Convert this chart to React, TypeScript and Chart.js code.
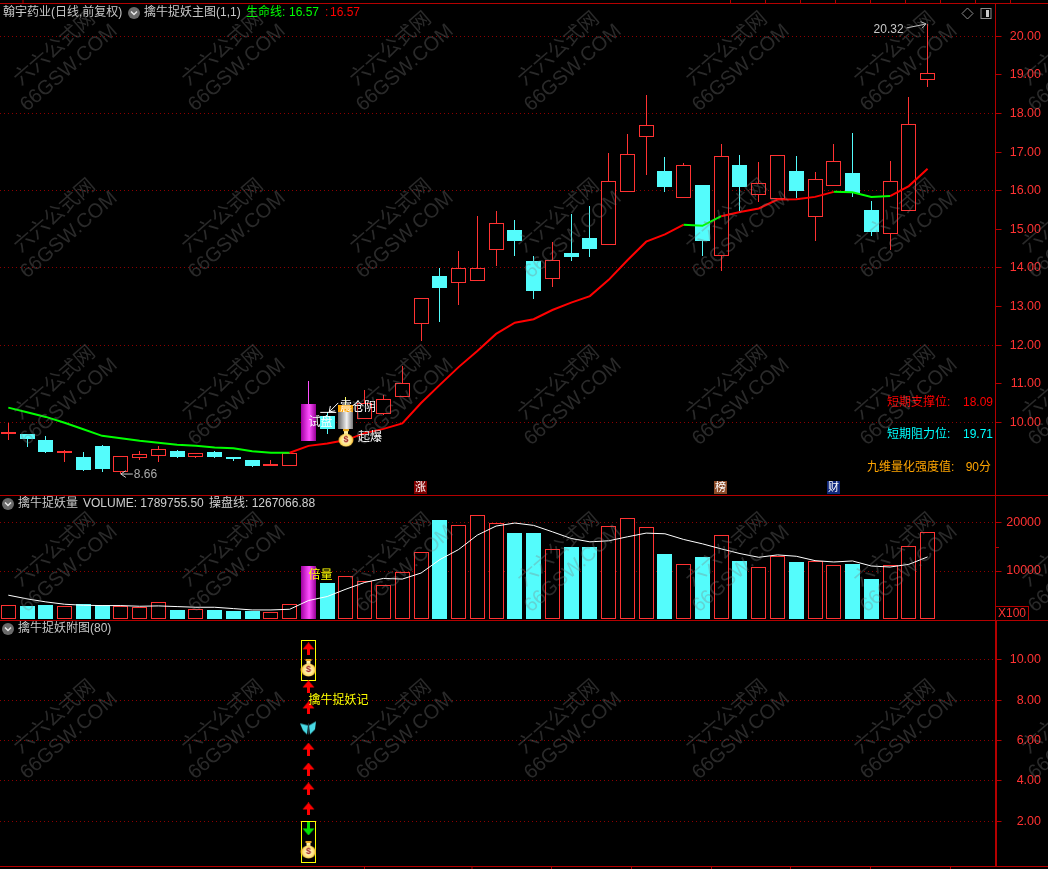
import React, { useEffect, useRef } from "react";
import { Chart, registerables } from "chart.js";

Chart.register(...registerables);

// ---------- data ----------
const stockTitle = "翰宇药业(日线,前复权)";
const mainTitle = "擒牛捉妖主图(1,1)";
const lifeName = "生命线:";
const lifeValue = "16.57";
const volumeTitle = "擒牛捉妖量";
const volumeText = "VOLUME: 1789755.50";
const operateText = "操盘线: 1267066.88";
const subTitle = "擒牛捉妖附图(80)";

const opens = [9.70, 9.70, 9.54, 9.20, 9.09, 9.39, 8.72, 9.08, 9.13, 9.25, 9.11, 9.22, 9.09, 9.02, 8.88, 8.86, 9.52, 10.16, 9.82, 10.08, 10.21, 10.66, 12.54, 13.78, 13.60, 13.67, 14.46, 14.98, 14.18, 13.70, 14.39, 14.78, 14.60, 15.97, 17.40, 16.51, 15.82, 16.15, 14.30, 16.67, 15.90, 15.79, 16.51, 15.33, 16.13, 16.46, 15.50, 14.89, 15.48, 18.88];
const highs = [9.97, 9.70, 9.65, 9.28, 9.23, 9.41, 9.12, 9.26, 9.39, 9.28, 9.21, 9.26, 9.09, 9.02, 9.02, 9.20, 11.07, 10.27, 10.65, 10.84, 10.71, 11.46, 13.21, 13.99, 14.43, 15.34, 15.48, 15.24, 14.31, 14.67, 15.40, 15.60, 16.98, 17.47, 18.48, 16.87, 16.72, 16.15, 17.21, 16.92, 16.74, 16.92, 16.90, 16.48, 17.21, 17.49, 15.73, 16.77, 18.43, 20.32];
const lows = [9.54, 9.35, 9.21, 8.98, 8.73, 8.72, 8.66, 9.02, 8.98, 9.08, 9.07, 9.08, 9.01, 8.85, 8.88, 8.86, 9.52, 9.69, 9.82, 10.08, 10.19, 10.66, 12.10, 12.61, 13.05, 13.67, 14.06, 14.32, 13.20, 13.51, 14.18, 14.27, 14.60, 15.97, 16.41, 15.97, 15.82, 14.32, 13.93, 15.48, 15.71, 15.79, 15.80, 14.70, 16.13, 15.84, 14.83, 14.47, 15.48, 18.69];
const closes = [9.70, 9.56, 9.24, 9.21, 8.76, 8.80, 9.12, 9.17, 9.30, 9.10, 9.21, 9.10, 9.05, 8.87, 8.91, 9.20, 10.47, 9.83, 10.45, 10.50, 10.60, 11.01, 13.21, 13.47, 14.01, 13.99, 15.16, 14.70, 13.41, 14.20, 14.29, 14.49, 16.25, 16.94, 17.69, 16.10, 16.66, 14.70, 16.89, 16.10, 16.19, 16.92, 16.00, 16.30, 16.76, 15.93, 14.93, 16.24, 17.72, 19.04];
const lifeLine = [10.38, 10.26, 10.14, 9.99, 9.82, 9.65, 9.59, 9.52, 9.47, 9.42, 9.39, 9.35, 9.33, 9.25, 9.21, 9.21, 9.39, 9.45, 9.54, 9.72, 9.83, 9.97, 10.50, 10.97, 11.43, 11.85, 12.29, 12.58, 12.67, 12.91, 13.10, 13.27, 13.69, 14.20, 14.68, 14.87, 15.12, 15.09, 15.34, 15.45, 15.54, 15.77, 15.78, 15.84, 15.97, 15.96, 15.84, 15.86, 16.12, 16.57];
const lifeRising = [false, false, false, false, false, false, false, false, false, false, false, false, false, false, false, true, true, true, true, true, true, true, true, true, true, true, true, true, true, true, true, true, true, true, true, true, false, false, true, true, true, true, true, true, false, false, false, true, true, true];
const volumes = [2936, 2800, 2940, 2730, 3150, 2870, 2730, 2450, 3500, 1890, 2030, 1890, 1680, 1680, 1400, 3080, 11110, 7550, 8950, 7900, 7060, 9790, 13980, 20550, 19640, 21740, 20060, 17825, 17825, 14610, 15100, 15100, 19430, 21110, 19220, 13630, 11460, 13000, 17550, 12160, 10830, 13140, 11950, 12160, 11250, 11530, 8390, 11250, 15240, 18170];
const operateLine = [4963, 4194, 3565, 3076, 2866, 2796, 2796, 2656, 2726, 2586, 2447, 2447, 2167, 1887, 1887, 2027, 3845, 4683, 6221, 7619, 8458, 8318, 9576, 12372, 14469, 17475, 19362, 19991, 19500, 18170, 16776, 16077, 16290, 17125, 17894, 17755, 16566, 15658, 14610, 13630, 12860, 13350, 13070, 12160, 11880, 12090, 11040, 10830, 11390, 12930];

const priceTicks = [10, 11, 12, 13, 14, 15, 16, 17, 18, 19, 20];
const priceGrid = [10, 12, 14, 16, 18, 20];
const volumeTicks = [10000, 20000];
const volumeMinorTick = 15000;
const subTicks = [2, 4, 6, 8, 10];

const signalIndex = 16;
const shakeIndex = 18;
const pulseCandle: [number, number] = [9.52, 10.47];
const shakeSilver: [number, number] = [9.82, 10.27];
const shakeOrange: [number, number] = [10.27, 10.45];
const blastBagLevel = 9.59;
const trialLevel = 10.0;
const shakeLevel = 10.37;
const doubleLevel = 8950;
const subLabelLevel = 8;

const riseArrows = [10.55, 8.66, 7.62, 5.58, 4.59, 3.6, 2.61];
const fallArrows = [1.62];
const bagLevels = [9.6, 0.58];
const butterflyLevels = [6.63];
const yellowBoxes: [number, number][] = [[8.97, 10.99], [-0.05, 2.0]];

const supportName = "短期支撑位:";
const supportValue = "18.09";
const resistName = "短期阻力位:";
const resistValue = "19.71";
const strengthName = "九维量化强度值:";
const strengthValue = "90分";
const markers = [
  { index: 22, text: "涨", color: "#800000" },
  { index: 38, text: "榜", color: "#8a4a28" },
  { index: 44, text: "财", color: "#10287c" },
];
const watermarkTop = "六六公式网";
const watermarkBottom = "66GSW.COM";

// ---------- styles ----------
const RED = "#ff3232";
const CYAN = "#54fcfc";
const FRAME = "#b40000";
const DOT = "#8c0000";
const FONT = '"Liberation Sans","Noto Sans CJK SC",sans-serif';
const X_MIN = -0.4424;
const X_MAX = 52.62;
const AXIS_WIDTH = 45.5;
const RIGHT_GAP = 7;
const BODY_WIDTH = 15;
const indexes = opens.map((_, i) => i);
const isUp = (i: number) => closes[i] >= opens[i];

function text(ctx: CanvasRenderingContext2D, s: string, x: number, y: number, color: string, align: CanvasTextAlign = "left", size = 12) {
  ctx.font = `${size}px ${FONT}`;
  ctx.textAlign = align;
  ctx.textBaseline = "middle";
  ctx.fillStyle = color;
  ctx.fillText(s, x, y);
}
function line(ctx: CanvasRenderingContext2D, x1: number, y1: number, x2: number, y2: number, color: string, w = 1) {
  ctx.strokeStyle = color;
  ctx.lineWidth = w;
  ctx.setLineDash([]);
  ctx.beginPath();
  ctx.moveTo(x1, y1);
  ctx.lineTo(x2, y2);
  ctx.stroke();
}
function chevron(ctx: CanvasRenderingContext2D, x: number, y: number) {
  ctx.fillStyle = "#6a6a6a";
  ctx.beginPath();
  ctx.arc(x, y, 6, 0, Math.PI * 2);
  ctx.fill();
  ctx.strokeStyle = "#e8e8e8";
  ctx.lineWidth = 1.5;
  ctx.setLineDash([]);
  ctx.beginPath();
  ctx.moveTo(x - 3, y - 1.5);
  ctx.lineTo(x, y + 1.5);
  ctx.lineTo(x + 3, y - 1.5);
  ctx.stroke();
}
function arrowHead(ctx: CanvasRenderingContext2D, x: number, y: number, fromX: number, fromY: number, color: string) {
  const a = Math.atan2(fromY - y, fromX - x);
  line(ctx, x, y, x + 6 * Math.cos(a + 0.6), y + 6 * Math.sin(a + 0.6), color);
  line(ctx, x, y, x + 6 * Math.cos(a - 0.6), y + 6 * Math.sin(a - 0.6), color);
}

function makeSprite(w: number, h: number, draw: (c: CanvasRenderingContext2D) => void) {
  const cv = document.createElement("canvas");
  cv.width = w;
  cv.height = h;
  draw(cv.getContext("2d") as CanvasRenderingContext2D);
  return cv;
}
const arrowSprite = (color: string, up: boolean) =>
  makeSprite(13, 13, (c) => {
    c.fillStyle = color;
    if (!up) {
      c.translate(0, 13);
      c.scale(1, -1);
    }
    c.fillRect(5, 5, 3, 8);
    c.beginPath();
    c.moveTo(6.5, 0);
    c.lineTo(12.5, 7);
    c.lineTo(0.5, 7);
    c.closePath();
    c.fill();
  });
const bagSprite = () =>
  makeSprite(16, 18, (c) => {
    c.fillStyle = "#e8a820";
    c.fillRect(5, 0, 6, 2);
    c.fillStyle = "#fff2a8";
    c.fillRect(6, 2, 4, 3);
    const g = c.createRadialGradient(8, 11, 1, 8, 11, 8);
    g.addColorStop(0, "#fff8d8");
    g.addColorStop(0.65, "#ffe070");
    g.addColorStop(1, "#d88a10");
    c.fillStyle = g;
    c.beginPath();
    c.ellipse(8, 11, 7.5, 6.5, 0, 0, Math.PI * 2);
    c.fill();
    c.fillStyle = "#a02020";
    c.font = `bold 9px ${FONT}`;
    c.textAlign = "center";
    c.textBaseline = "middle";
    c.fillText("$", 8, 11);
  });
const butterflySprite = () =>
  makeSprite(17, 15, (c) => {
    c.fillStyle = "#48d8e4";
    c.beginPath();
    c.moveTo(8, 5);
    c.lineTo(0, 3);
    c.lineTo(3, 10);
    c.lineTo(7, 14);
    c.closePath();
    c.fill();
    c.beginPath();
    c.moveTo(9, 5);
    c.lineTo(16, 1);
    c.lineTo(15, 9);
    c.lineTo(10, 14);
    c.closePath();
    c.fill();
    c.fillStyle = "#203840";
    c.fillRect(8, 3, 1, 11);
  });

function sheen(ctx: any, index: number, edgeL: string, mid: string, edgeR: string) {
  const x = ctx.chart.scales.x?.getPixelForValue(index);
  if (!Number.isFinite(x)) return mid;
  const g = ctx.chart.ctx.createLinearGradient(x - BODY_WIDTH / 2, 0, x + BODY_WIDTH / 2, 0);
  g.addColorStop(0, edgeL);
  g.addColorStop(0.55, mid);
  g.addColorStop(1, edgeR);
  return g;
}
const magenta = (ctx: any) => sheen(ctx, signalIndex, "#a000a0", "#ff50ff", "#960096");
const silver = (ctx: any) => sheen(ctx, shakeIndex, "#6c6c6c", "#f2f2f2", "#6c6c6c");

// keeps the bars on whole pixels so that the 1px outlines stay sharp
const snapBars = {
  id: "snapBars",
  afterDatasetsUpdate(chart: any) {
    chart.getSortedVisibleDatasetMetas().forEach((meta: any) => {
      if (meta.type !== "bar") return;
      meta.data.forEach((el: any) => {
        el.x = Math.floor(el.x) + 0.5;
        el.y = Math.round(el.y);
        el.base = Math.round(el.base);
      });
    });
  },
};

const noScalePadding = (s: any) => {
  s.paddingLeft = 0;
  s.paddingRight = 0;
  s.paddingTop = 0;
  s.paddingBottom = 0;
};

function yAxis(min: number, max: number, values: number[], gridded: (v: number) => boolean, format: (v: number) => string) {
  return {
    position: "right",
    min,
    max,
    afterFit: (s: any) => {
      s.width = AXIS_WIDTH;
      noScalePadding(s);
    },
    afterBuildTicks: (s: any) => {
      s.ticks = values.map((value) => ({ value }));
    },
    border: { display: false, dash: [1, 3] },
    grid: {
      color: (c: any) => (gridded(c.tick?.value) ? DOT : "rgba(0,0,0,0)"),
      tickColor: FRAME,
      tickLength: 6,
      tickBorderDash: [],
    },
    ticks: {
      autoSkip: false,
      maxRotation: 0,
      color: RED,
      crossAlign: "far",
      font: { family: "Liberation Sans", size: 12.5 },
      callback: (v: any) => format(Number(v)),
    },
  };
}
const baseOptions = (y: any, padding: any) => ({
  animation: false,
  responsive: false,
  devicePixelRatio: 1,
  layout: { autoPadding: false, padding: { left: 0, right: RIGHT_GAP, ...padding } },
  plugins: { legend: { display: false }, tooltip: { enabled: false } },
  scales: {
    x: { type: "linear", min: X_MIN, max: X_MAX, display: false, offset: false, afterFit: noScalePadding },
    y,
  },
});

const barBase = { type: "bar", grouped: false, borderSkipped: false, inflateAmount: 0 };
const xy = (ys: number[]) => ys.map((y, x) => ({ x, y }));
const atSignal = (ys: number[]) => ys.map((y) => ({ x: signalIndex, y }));
const point = (ys: number[], sprite: HTMLCanvasElement, order: number) => ({
  type: "scatter",
  data: atSignal(ys),
  pointStyle: sprite,
  pointRadius: 8,
  order,
});

function makeMain(canvas: HTMLCanvasElement) {
  const overlay = {
    id: "mainOverlay",
    afterDatasetsDraw(chart: any) {
      const { ctx, scales } = chart;
      const xp = (i: number) => scales.x.getPixelForValue(i);
      const yp = (v: number) => scales.y.getPixelForValue(v);
      ctx.save();
      // frame
      line(ctx, 0, 3.5, 1048, 3.5, FRAME);
      line(ctx, 0, 495.5, 1048, 495.5, FRAME);
      line(ctx, 995.5, 3, 995.5, 496, FRAME);
      [23, 730.5, 765.5, 800.5, 835.5, 870.5, 905.5, 940.5, 975.5, 1010.5].forEach((x) => line(ctx, x, 0, x, 3, FRAME));
      // titles
      text(ctx, stockTitle, 3, 13, "#c8c8c8");
      chevron(ctx, 134, 13);
      text(ctx, mainTitle, 144, 13, "#c8c8c8");
      text(ctx, lifeName, 246, 13, "#00ff00");
      text(ctx, lifeValue, 289, 13, "#00ff00");
      text(ctx, ":", 325, 13, "#ff0000");
      text(ctx, lifeValue, 330, 13, "#ff0000");
      // corner icons
      ctx.strokeStyle = "#8c8c8c";
      ctx.lineWidth = 1;
      ctx.beginPath();
      ctx.moveTo(967.5, 8);
      ctx.lineTo(973, 13.5);
      ctx.lineTo(967.5, 19);
      ctx.lineTo(962, 13.5);
      ctx.closePath();
      ctx.stroke();
      ctx.strokeRect(981, 8.5, 10, 10);
      ctx.fillStyle = "#c8c8c8";
      ctx.fillRect(986, 10, 3, 7);
      // high and low callouts
      const hx = xp(49);
      const hy = yp(highs[49]);
      text(ctx, highs[49].toFixed(2), hx - 24, hy + 6, "#c8c8c8", "right");
      line(ctx, hx - 21, hy + 4, hx - 1.5, hy, "#c8c8c8");
      arrowHead(ctx, hx - 1.5, hy, hx - 21, hy + 4, "#c8c8c8");
      const lx = xp(6);
      const ly = yp(lows[6]);
      line(ctx, lx, ly, lx + 12, ly, "#c8c8c8");
      arrowHead(ctx, lx, ly, lx + 12, ly, "#c8c8c8");
      text(ctx, lows[6].toFixed(2), lx + 13, ly + 1, "#aaaaaa");
      // signal labels
      text(ctx, "试盘", xp(signalIndex), yp(trialLevel), "#ffffff");
      text(ctx, "震仓阴", xp(shakeIndex) - 6, yp(shakeLevel), "#ffffff");
      text(ctx, "起爆", xp(shakeIndex) + 12, yp(blastBagLevel), "#ffffff");
      const tipX = xp(17) + 2;
      const tipY = yp(highs[17]);
      line(ctx, tipX - 9, tipY + 0.5, tipX + 7, tipY + 0.5, "#ffffff");
      line(ctx, tipX, tipY, tipX + 9, tipY - 9, "#ffffff");
      arrowHead(ctx, tipX, tipY, tipX + 9, tipY - 9, "#ffffff");
      // right side readings
      text(ctx, supportName, 887, 403, "#ff0000");
      text(ctx, supportValue, 993, 403, "#ff0000", "right");
      text(ctx, resistName, 887, 435, "#00ffff");
      text(ctx, resistValue, 993, 435, "#00ffff", "right");
      text(ctx, strengthName, 867, 468, "#ffa500");
      text(ctx, strengthValue, 991, 468, "#ffa500", "right");
      // date markers
      markers.forEach((m) => {
        const x = Math.round(xp(m.index));
        ctx.fillStyle = m.color;
        ctx.fillRect(x - 7, 481, 13, 13);
        text(ctx, m.text, x - 0.5, 487.5, "#ffffff", "center", 11);
      });
      ctx.restore();
    },
  };
  return new Chart(canvas, {
    type: "bar",
    data: {
      datasets: [
        {
          ...barBase,
          data: indexes.map((x) => ({ x, y: [lows[x], highs[x]] })),
          barThickness: 1,
          backgroundColor: (c: any) =>
            c.dataIndex === signalIndex ? "#ff50ff" : c.dataIndex === shakeIndex ? "#ffff66" : isUp(c.dataIndex) ? RED : CYAN,
          order: 10,
        },
        {
          ...barBase,
          data: indexes.map((x) => ({ x, y: [opens[x], closes[x]] })),
          barThickness: BODY_WIDTH,
          minBarLength: 2,
          borderWidth: 1,
          borderColor: (c: any) => (isUp(c.dataIndex) ? RED : CYAN),
          backgroundColor: (c: any) => (isUp(c.dataIndex) ? "#000000" : CYAN),
          order: 9,
        },
        { ...barBase, data: [{ x: signalIndex, y: pulseCandle }], barThickness: BODY_WIDTH, backgroundColor: magenta, order: 8 },
        { ...barBase, data: [{ x: shakeIndex, y: shakeSilver }], barThickness: BODY_WIDTH, backgroundColor: silver, order: 8 },
        { ...barBase, data: [{ x: shakeIndex, y: shakeOrange }], barThickness: BODY_WIDTH, backgroundColor: "#ffa500", order: 8 },
        {
          type: "line",
          data: xy(lifeLine),
          borderWidth: 2,
          tension: 0,
          pointRadius: 0,
          borderColor: "#ff0000",
          segment: { borderColor: (c: any) => (lifeRising[c.p0DataIndex] ? "#ff0000" : "#00ff00") },
          order: 5,
        },
        { type: "scatter", data: [{ x: shakeIndex, y: blastBagLevel }], pointStyle: bagSprite(), pointRadius: 8, order: 3 },
      ],
    },
    options: baseOptions(
      yAxis(8.117, 20.863, priceTicks, (v) => priceGrid.includes(v), (v) => v.toFixed(2)),
      { top: 3, bottom: 1 },
    ) as any,
    plugins: [snapBars, overlay],
  } as any);
}

function makeVolume(canvas: HTMLCanvasElement) {
  const overlay = {
    id: "volumeOverlay",
    afterDatasetsDraw(chart: any) {
      const { ctx, scales } = chart;
      ctx.save();
      line(ctx, 0, 124.5, 1048, 124.5, FRAME);
      line(ctx, 995.5, 0, 995.5, 125, FRAME);
      const minor = Math.round(scales.y.getPixelForValue(volumeMinorTick)) + 0.5;
      line(ctx, 995.5, minor, 999, minor, FRAME);
      chevron(ctx, 8, 8);
      text(ctx, volumeTitle, 18, 8, "#c8c8c8");
      text(ctx, volumeText, 83, 8, "#d0d0d0");
      text(ctx, operateText, 209, 8, "#d0d0d0");
      text(ctx, "倍量", scales.x.getPixelForValue(signalIndex), scales.y.getPixelForValue(doubleLevel), "#ffff00");
      ctx.strokeStyle = FRAME;
      ctx.lineWidth = 1;
      ctx.strokeRect(995.5, 110.5, 33, 14);
      text(ctx, "X100", 998, 117.5, RED);
      ctx.restore();
    },
  };
  return new Chart(canvas, {
    type: "bar",
    data: {
      datasets: [
        {
          ...barBase,
          data: xy(volumes),
          barThickness: BODY_WIDTH,
          borderWidth: 1,
          borderColor: (c: any) => (isUp(c.dataIndex) ? RED : CYAN),
          backgroundColor: (c: any) => (isUp(c.dataIndex) ? "#000000" : CYAN),
          order: 9,
        },
        { ...barBase, data: [{ x: signalIndex, y: volumes[signalIndex] }], barThickness: BODY_WIDTH, backgroundColor: magenta, order: 8 },
        { type: "line", data: xy(operateLine), borderColor: "#ffffff", borderWidth: 1, tension: 0, pointRadius: 0, order: 5 },
      ],
    },
    options: baseOptions(
      yAxis(0, 25625, volumeTicks, () => true, (v) => String(v)),
      { top: 0, bottom: 2 },
    ) as any,
    plugins: [snapBars, overlay],
  } as any);
}

function makeSub(canvas: HTMLCanvasElement) {
  const overlay = {
    id: "subOverlay",
    afterDatasetsDraw(chart: any) {
      const { ctx, scales } = chart;
      ctx.save();
      line(ctx, 0, 245.5, 1048, 245.5, FRAME);
      line(ctx, 996, 0, 996, 246, FRAME, 2);
      [364.5, 472, 551.5, 631.5, 711.5, 790.5, 870.5, 950.5].forEach((x) => line(ctx, x, 246, x, 248, FRAME));
      chevron(ctx, 8, 8);
      text(ctx, subTitle, 18, 8, "#c8c8c8");
      text(ctx, "擒牛捉妖记", scales.x.getPixelForValue(signalIndex), scales.y.getPixelForValue(subLabelLevel), "#ffff00");
      ctx.restore();
    },
  };
  return new Chart(canvas, {
    type: "bar",
    data: {
      datasets: [
        {
          ...barBase,
          data: yellowBoxes.map((y) => ({ x: signalIndex, y })),
          barThickness: BODY_WIDTH,
          borderWidth: 1,
          borderColor: "#ffff00",
          backgroundColor: "rgba(0,0,0,0)",
          order: 9,
        },
        point(riseArrows, arrowSprite("#ff0000", true), 4),
        point(fallArrows, arrowSprite("#00e000", false), 4),
        point(bagLevels, bagSprite(), 4),
        point(butterflyLevels, butterflySprite(), 4),
      ],
    },
    options: baseOptions(
      yAxis(-0.218, 11.93, subTicks, () => true, (v) => v.toFixed(2)),
      { top: 0, bottom: 3 },
    ) as any,
    plugins: [snapBars, overlay],
  } as any);
}

const wmCols = [54, 222, 390, 558, 726, 894, 1062];
const wmRows = [48, 215, 382, 549, 716];
const wmColor = "rgba(128,128,128,0.33)";

export default function App() {
  const mainRef = useRef<HTMLCanvasElement>(null);
  const volRef = useRef<HTMLCanvasElement>(null);
  const subRef = useRef<HTMLCanvasElement>(null);
  useEffect(() => {
    document.body.style.margin = "0";
    document.body.style.background = "#000";
    document.documentElement.style.overflow = "hidden";
    const charts = [makeMain(mainRef.current!), makeVolume(volRef.current!), makeSub(subRef.current!)];
    return () => charts.forEach((c) => c.destroy());
  }, []);
  const canvasStyle = (top: number): React.CSSProperties => ({ position: "absolute", left: 0, top, display: "block" });
  const wmBase: React.CSSProperties = {
    position: "absolute",
    transform: "translate(-50%,-50%) rotate(-41deg)",
    color: wmColor,
    fontSize: 20,
    fontFamily: FONT,
    whiteSpace: "nowrap",
    lineHeight: 1,
  };
  return (
    <div style={{ position: "absolute", left: 0, top: 0, width: 1048, height: 869, background: "#000", overflow: "hidden" }}>
      <canvas ref={mainRef} width={1048} height={496} style={canvasStyle(0)} />
      <canvas ref={volRef} width={1048} height={125} style={canvasStyle(496)} />
      <canvas ref={subRef} width={1048} height={248} style={canvasStyle(621)} />
      <div style={{ position: "absolute", inset: 0, pointerEvents: "none" }}>
        {wmRows.flatMap((y) =>
          wmCols.map((x) => (
            <React.Fragment key={`${x}-${y}`}>
              <span style={{ ...wmBase, left: x, top: y }}>{watermarkTop}</span>
              <span style={{ ...wmBase, left: x + 14, top: y + 19 }}>{watermarkBottom}</span>
            </React.Fragment>
          )),
        )}
      </div>
    </div>
  );
}
